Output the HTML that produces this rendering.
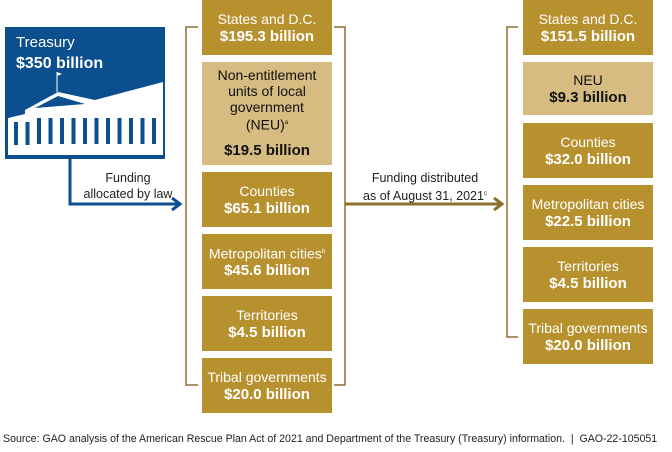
<!DOCTYPE html>
<html><head><meta charset="utf-8"><style>
body{margin:0;width:672px;height:452px;background:#fff;position:relative;overflow:hidden;font-family:"Liberation Sans",Arial,sans-serif}
.b{position:absolute;background:#b8912f;color:#fff;text-align:center;font-size:14px;line-height:18px;display:flex;flex-direction:column;justify-content:center;align-items:center}
.b b{font-size:15px}
.l{background:#d6bc80;color:#111}
sup{font-size:6px}
.t{position:absolute;font-size:12.5px;line-height:16px;color:#222;text-align:center}
</style></head><body>
<svg style="position:absolute;left:0;top:0" width="672" height="452">
 <rect x="5" y="27" width="160" height="132" fill="#0b4f8f"/>
 <g>
  <line x1="57" y1="72" x2="57" y2="92" stroke="#fff" stroke-width="1"/>
  <polygon points="57,72 62,74 57,76" fill="#fff"/>
  <polygon points="25,110 58,92 95,100 163,82 163,150 8,150 8,118 25,114" fill="#fff"/>
  <polygon points="35,108 58,96 85,104" fill="#0b4f8f"/>
  <g id="cols"></g>
  <rect x="8" y="145" width="155" height="10" fill="#fff"/>
 </g>
 <polyline points="70,159 70,204 178,204" fill="none" stroke="#0b4f8f" stroke-width="3"/>
 <polyline points="172,198 180,204 172,210" fill="none" stroke="#0b4f8f" stroke-width="3"/>
 <polyline points="198,27 186,27 186,385 198,385" fill="none" stroke="#8f6e30" stroke-width="1.5"/>
 <polyline points="334,27 345,27 345,385 334,385" fill="none" stroke="#8f6e30" stroke-width="1.5"/>
 <line x1="345" y1="204" x2="500" y2="204" stroke="#8f6e30" stroke-width="3"/>
 <polyline points="494,198 502,204 494,210" fill="none" stroke="#8f6e30" stroke-width="3"/>
 <polyline points="518,27 507,27 507,337 518,337" fill="none" stroke="#8f6e30" stroke-width="1.5"/>
</svg>
<div class="t" style="left:16px;top:32px;color:#fff;text-align:left;font-size:15px;line-height:21px">Treasury<br><b style="font-size:16px">$350 billion</b></div>
<div class="t" style="left:70px;top:170px;width:116px">Funding<br>allocated by law</div>
<div class="t" style="left:345px;top:170px;width:160px">Funding distributed<br>as of August 31, 2021<sup>c</sup></div>

<div class="b" style="left:202px;top:0;width:130px;height:55px"><span>States and D.C.</span><b>$195.3 billion</b></div>
<div class="b l" style="left:202px;top:62px;width:130px;height:103px"><span style="line-height:16px">Non-entitlement<br>units of local<br>government<br>(NEU)<sup>a</sup></span><b style="margin-top:9px">$19.5 billion</b></div>
<div class="b" style="left:202px;top:172px;width:130px;height:55px"><span>Counties</span><b>$65.1 billion</b></div>
<div class="b" style="left:202px;top:234px;width:130px;height:55px"><span>Metropolitan cities<sup>b</sup></span><b>$45.6 billion</b></div>
<div class="b" style="left:202px;top:296px;width:130px;height:55px"><span>Territories</span><b>$4.5 billion</b></div>
<div class="b" style="left:202px;top:358px;width:130px;height:55px"><span>Tribal governments</span><b>$20.0 billion</b></div>

<div class="b" style="left:523px;top:0;width:130px;height:55px"><span>States and D.C.</span><b>$151.5 billion</b></div>
<div class="b l" style="left:523px;top:62px;width:130px;height:53px"><span>NEU</span><b>$9.3 billion</b></div>
<div class="b" style="left:523px;top:123px;width:130px;height:55px"><span>Counties</span><b>$32.0 billion</b></div>
<div class="b" style="left:523px;top:185px;width:130px;height:55px"><span>Metropolitan cities</span><b>$22.5 billion</b></div>
<div class="b" style="left:523px;top:247px;width:130px;height:55px"><span>Territories</span><b>$4.5 billion</b></div>
<div class="b" style="left:523px;top:309px;width:130px;height:55px"><span>Tribal governments</span><b>$20.0 billion</b></div>

<div class="t" style="left:3px;top:431px;font-size:10.6px;text-align:left;white-space:nowrap">Source: GAO analysis of the American Rescue Plan Act of 2021 and Department of the Treasury (Treasury) information.&nbsp; |&nbsp; GAO-22-105051</div>
<script>
var g=document.getElementById('cols');
for(var i=0;i<13;i++){var r=document.createElementNS('http://www.w3.org/2000/svg','rect');
r.setAttribute('x',14+i*11.5);r.setAttribute('y',118+(i<2?4:0));r.setAttribute('width',4);r.setAttribute('height',26);
r.setAttribute('fill','#0b4f8f');


g.appendChild(r);}
</script>
</body></html>
